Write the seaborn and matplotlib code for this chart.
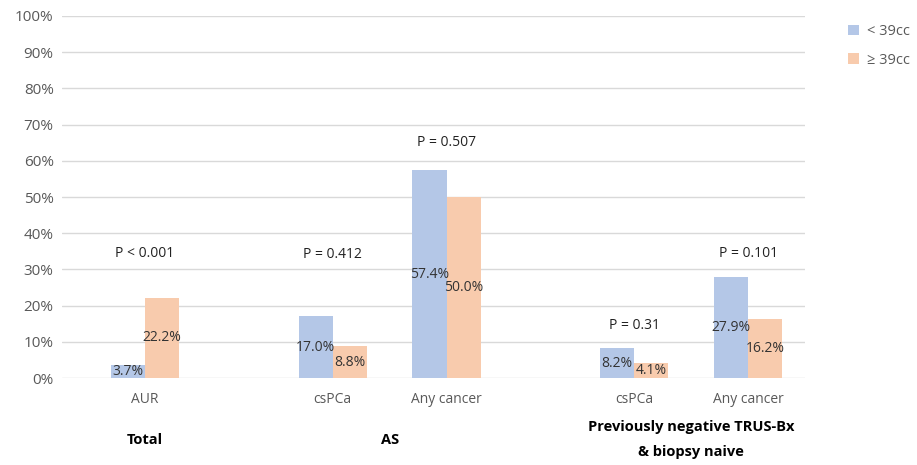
import pandas as pd
import matplotlib.pyplot as plt
import matplotlib.transforms as mtransforms
from matplotlib.patches import Patch
import seaborn as sns

# ----- data -----
categories = ['AUR', 'csPCa', 'Any cancer', 'csPCa', 'Any cancer']
groups = ['Total', 'AS', 'AS',
          'Previously negative TRUS-Bx\n& biopsy naive',
          'Previously negative TRUS-Bx\n& biopsy naive']
series_names = ['< 39cc', '≥ 39cc']
small_vol = [3.7, 17.0, 57.4, 8.2, 27.9]
large_vol = [22.2, 8.8, 50.0, 4.1, 16.2]
p_values = ['P < 0.001', 'P = 0.412', 'P = 0.507', 'P = 0.31', 'P = 0.101']
p_heights = [34.5, 34.0, 65.0, 14.4, 34.5]   # where the p-value text sits

colors = ['#B4C7E7', '#F8CBAD']

# x positions: 1 unit inside a group, wider gap between groups
positions = []
for i, g in enumerate(groups):
    if i == 0:
        positions.append(0.0)
    elif g == groups[i - 1]:
        positions.append(positions[-1] + 1.0)
    else:
        positions.append(positions[-1] + 1.65)

df = pd.DataFrame({
    'pos': positions * 2,
    'size': [series_names[0]] * len(small_vol) + [series_names[1]] * len(large_vol),
    'value': small_vol + large_vol,
})

sns.set_theme(style='white')
plt.rcParams['font.family'] = ['Open Sans', 'DejaVu Sans']

fig = plt.figure(figsize=(9.17, 4.65), dpi=100)
ax = fig.add_axes([0.0676, 0.187, 0.8103, 0.7786])

sns.barplot(data=df, x='pos', y='value', hue='size', hue_order=series_names,
            native_scale=True, width=0.6, palette=colors, saturation=1,
            linewidth=0, edgecolor='none', legend=False, ax=ax, zorder=3)

# value labels in the middle of each bar
for cont, vals in zip(ax.containers, [small_vol, large_vol]):
    ax.bar_label(cont, labels=[f'{v:.1f}%' for v in vals], label_type='center',
                 fontsize=10, color='#333333')

# p-values above each pair
for x, txt, h in zip(positions, p_values, p_heights):
    ax.text(x, h, txt, ha='center', va='center', fontsize=10, color='#222222')

ax.set_ylim(0, 100)
ax.set_xlim(-0.73, 5.8)
ax.set_yticks(range(0, 101, 10))
ax.set_yticklabels([f'{v}%' for v in range(0, 101, 10)], fontsize=11, color='#595959')
ax.set_xticks(positions)
ax.set_xticklabels(categories, fontsize=10, color='#595959')
ax.tick_params(axis='x', length=0, pad=10)
ax.tick_params(axis='y', length=0, pad=6)
ax.set_xlabel('')
ax.set_ylabel('')
ax.yaxis.grid(True, color='#D9D9D9', linewidth=1)
ax.set_axisbelow(True)
sns.despine(ax=ax, left=True, bottom=True)

# group labels under the tick labels
trans = mtransforms.blended_transform_factory(ax.transData, ax.transAxes)
seen = []
for g in groups:
    if g in seen:
        continue
    seen.append(g)
    xs = [p for p, gg in zip(positions, groups) if gg == g]
    ax.text(sum(xs) / len(xs), -0.17, g, transform=trans, ha='center', va='center',
            fontsize=10.5, fontweight='bold', color='black', linespacing=2.0)

handles = [Patch(facecolor=c, edgecolor='none') for c in colors]
fig.legend(handles, series_names, loc='upper left', bbox_to_anchor=(0.922, 0.955),
           frameon=False, fontsize=10.5, handlelength=0.7, handleheight=0.7,
           handletextpad=0.6, labelspacing=0.95, labelcolor='#595959',
           borderaxespad=0, borderpad=0.2)

fig.savefig('out.png', dpi=100)
